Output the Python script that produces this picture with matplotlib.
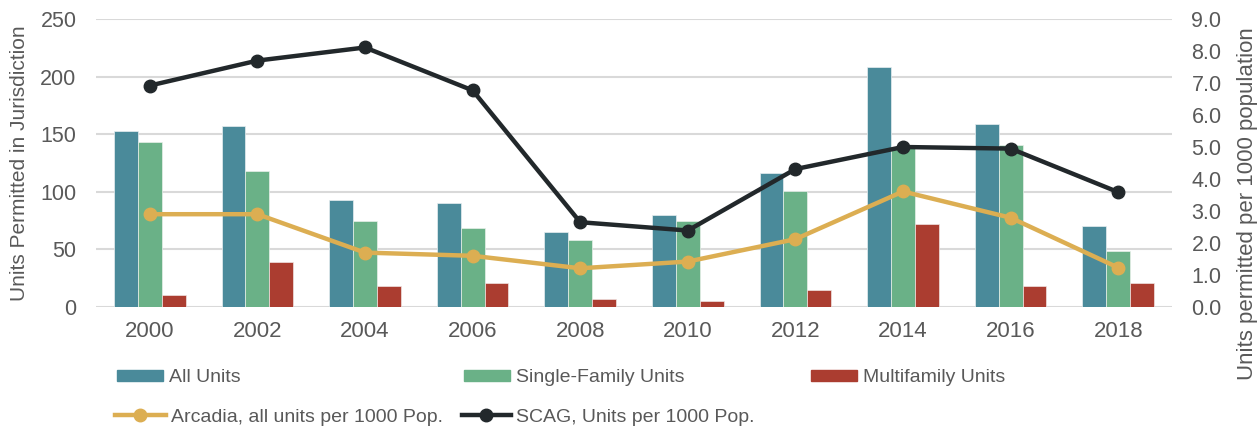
import matplotlib
matplotlib.use("Agg")
import matplotlib.pyplot as plt
import numpy as np
from matplotlib.lines import Line2D
from matplotlib.patches import Patch

# Yillar ve seriler
years = ["2000", "2002", "2004", "2006", "2008", "2010", "2012", "2014", "2016", "2018"]
all_units = [153, 157, 93, 90, 65, 80, 116, 208, 159, 70]
single_family = [143, 118, 75, 69, 58, 75, 101, 139, 141, 49]
multifamily = [10, 39, 18, 21, 7, 5, 15, 72, 18, 21]
arcadia_per_1000 = [2.90, 2.90, 1.70, 1.60, 1.21, 1.42, 2.12, 3.61, 2.79, 1.23]
scag_per_1000 = [6.92, 7.70, 8.11, 6.77, 2.65, 2.39, 4.31, 5.00, 4.95, 3.59]

C_ALL = "#4a8a9a"
C_SF = "#6ab187"
C_MF = "#ab3d30"
C_ARC = "#dcae52"
C_SCAG = "#22282b"
C_TEXT = "#595959"

plt.rcParams["font.family"] = ["Liberation Sans", "DejaVu Sans"]

fig = plt.figure(figsize=(12.6, 4.32), dpi=100)
ax = fig.add_axes([96 / 1260, 1 - 307 / 432, (1172 - 96) / 1260, 288 / 432])
ax2 = ax.twinx()

x = np.arange(len(years))
w = 0.222
ax.bar(x - w, all_units, w, color=C_ALL, edgecolor="#e8eef0", linewidth=0.5, zorder=2)
ax.bar(x, single_family, w, color=C_SF, edgecolor="#e8f0ea", linewidth=0.5, zorder=2)
ax.bar(x + w, multifamily, w, color=C_MF, edgecolor="#f0e4e2", linewidth=0.5, zorder=2)

ax2.plot(x, arcadia_per_1000, color=C_ARC, lw=3.2, marker="o", ms=9, zorder=3)
ax2.plot(x, scag_per_1000, color=C_SCAG, lw=3.2, marker="o", ms=9, zorder=4)

ax.set_xlim(-0.5, len(years) - 0.5)
ax.set_ylim(0, 250)
ax.set_yticks(np.arange(0, 251, 50))
ax2.set_ylim(0, 9)
ax2.set_yticks(np.arange(0, 9.1, 1))
ax2.set_yticklabels([f"{v:.1f}" for v in np.arange(0, 9.1, 1)])
ax.set_xticks(x)
ax.set_xticklabels(years)

ax.grid(axis="y", color="#d9d9d9", lw=1.5, zorder=0)
ax.set_axisbelow(True)
for a in (ax, ax2):
    for s in a.spines.values():
        s.set_visible(False)
    a.tick_params(length=0, labelsize=15.5, colors=C_TEXT)
ax.tick_params(axis="y", pad=14)
ax2.tick_params(axis="y", pad=14)
ax.tick_params(axis="x", pad=10, labelsize=16)

ax.set_ylabel("Units Permitted in Jurisdiction", fontsize=15, color=C_TEXT)
ax.yaxis.set_label_coords(-0.062, 0.5)
ax2.set_ylabel("Units permitted per 1000 population", fontsize=16, color=C_TEXT, rotation=90)
ax2.yaxis.set_label_coords(1.06, 0.36)

# Lejant: her oge kendi konumunda
entries = [
    (Patch(color=C_ALL), "All Units", 117, 378, 2.35),
    (Patch(color=C_SF), "Single-Family Units", 464, 378, 2.35),
    (Patch(color=C_MF), "Multifamily Units", 811, 378, 2.35),
    (Line2D([], [], color=C_ARC, lw=3.2, marker="o", ms=9), "Arcadia, all units per 1000 Pop.", 115, 417, 2.6),
    (Line2D([], [], color=C_SCAG, lw=3.2, marker="o", ms=9), "SCAG, Units per 1000 Pop.", 462, 417, 2.5),
]
for h, lab, px, py, hl in entries:
    fig.legend([h], [lab], loc="center left", bbox_to_anchor=(px / 1260, 1 - py / 432),
               frameon=False, fontsize=14, labelcolor=C_TEXT, handlelength=hl,
               handleheight=0.55, handletextpad=0.3, borderpad=0, borderaxespad=0)

fig.savefig("out.png", dpi=100)
plt.close()
